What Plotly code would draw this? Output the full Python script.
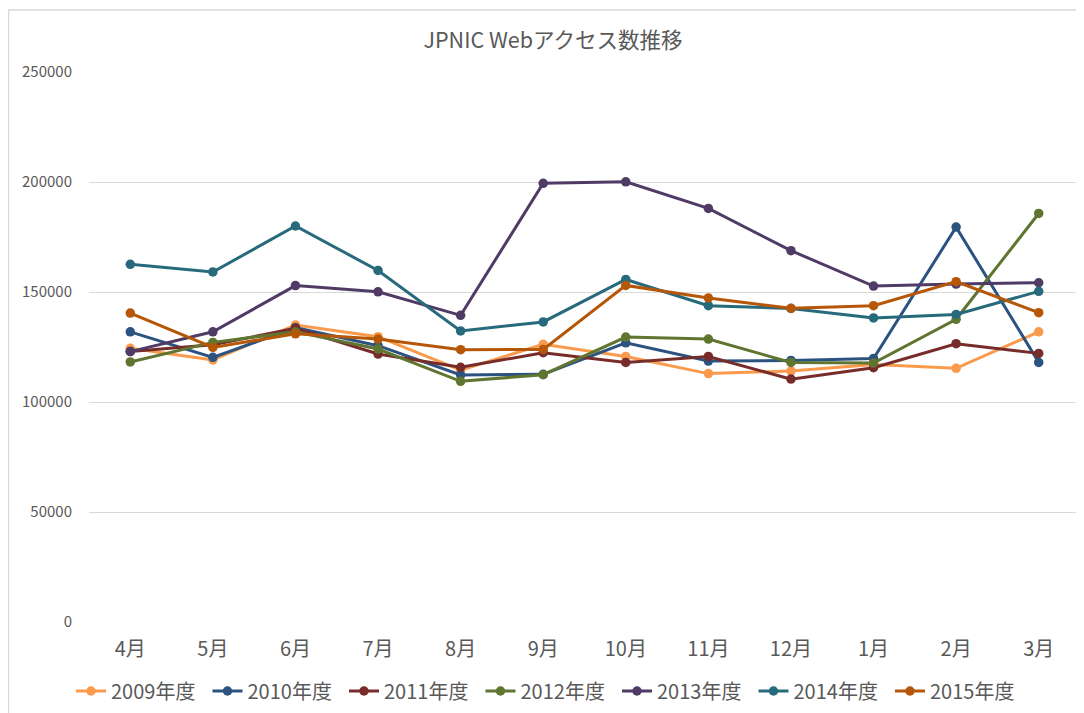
import plotly.graph_objects as go

months = ["4月", "5月", "6月", "7月", "8月", "9月", "10月", "11月", "12月", "1月", "2月", "3月"]
series_names = ["2009年度", "2010年度", "2011年度", "2012年度", "2013年度", "2014年度", "2015年度"]

v2009 = [124400, 119100, 135000, 129700, 114500, 126200, 120700, 112900, 114100, 117000, 115300, 131900]
v2010 = [131900, 120300, 133800, 125600, 112300, 112600, 126900, 118600, 118900, 119800, 179500, 118000]
v2011 = [123000, 126000, 133500, 121800, 115800, 122400, 118000, 120700, 110400, 115600, 126500, 122100]
v2012 = [118200, 127100, 131900, 124100, 109400, 112400, 129500, 128600, 118000, 117700, 137600, 185700]
v2013 = [122900, 131900, 152900, 150100, 139400, 199400, 200100, 188000, 168800, 152700, 153600, 154200]
v2014 = [162600, 159100, 180000, 159800, 132300, 136400, 155700, 143800, 142500, 138200, 139800, 150300]
v2015 = [140400, 124800, 131000, 128600, 123800, 123900, 153000, 147300, 142600, 143800, 154700, 140600]

colors = ["#F99A4C", "#2C5380", "#772C2A", "#5F7530", "#4F3B66", "#276A7C", "#B65708"]
values = [v2009, v2010, v2011, v2012, v2013, v2014, v2015]

FONT = "Noto Sans CJK JP"
TXT = "#595959"

fig = go.Figure()
for name, vals, col in zip(series_names, values, colors):
    fig.add_trace(go.Scatter(
        x=months, y=vals, name=name, mode="lines+markers",
        line=dict(color=col, width=3),
        marker=dict(color=col, size=9.5),
    ))

# the page body adds an 8px offset; work in screen pixels and convert
OFF = 8
W, H = 1084, 713
sl, sr, st, sb = 89, 1080, 72, 622   # plot area in screen pixels
L, T = sl - OFF, st - OFF
R = W - (sr - OFF)
B = H - (sb - OFF)
pw, ph = W - L - R, H - T - B

def px_x(p):
    return (p - sl) / pw

def px_y(p):
    return (sb - p) / ph

fig.update_layout(
    width=W, height=H,
    margin=dict(l=L, r=R, t=T, b=B, autoexpand=False),
    paper_bgcolor="white", plot_bgcolor="white",
    font=dict(family=FONT, color=TXT),
    title=dict(text="JPNIC Webアクセス数推移", x=px_x(553), xref="paper", xanchor="center",
               y=1 - (40 - OFF) / H, yref="container", yanchor="middle",
               font=dict(size=21.5, color=TXT, family=FONT)),
    xaxis=dict(range=[-0.5, len(months) - 0.5], showgrid=False, showline=False, zeroline=False,
               ticks="", automargin=False,
               tickfont=dict(size=20, color=TXT), ticklabelstandoff=13),
    yaxis=dict(range=[0, 250000], dtick=50000, tickformat="d", showgrid=True, automargin=False,
               gridcolor="#D9D9D9", gridwidth=1, zeroline=False, showline=False,
               ticks="", tickfont=dict(size=15, color=TXT), ticklabelstandoff=16),
    legend=dict(orientation="h", x=px_x(549), xanchor="center", y=px_y(691), yanchor="middle",
                font=dict(size=20, color=TXT), itemwidth=30, traceorder="normal",
                entrywidth=91.5, entrywidthmode="pixels",
                bgcolor="rgba(0,0,0,0)"),
    showlegend=True,
    shapes=[dict(type="rect", xref="paper", yref="paper",
                 x0=px_x(OFF + 0.5), x1=px_x(1100), y0=px_y(730), y1=px_y(10),
                 line=dict(color="#D9D9D9", width=1.5), fillcolor="rgba(0,0,0,0)", layer="below")],
)

fig.write_html("out.html")
